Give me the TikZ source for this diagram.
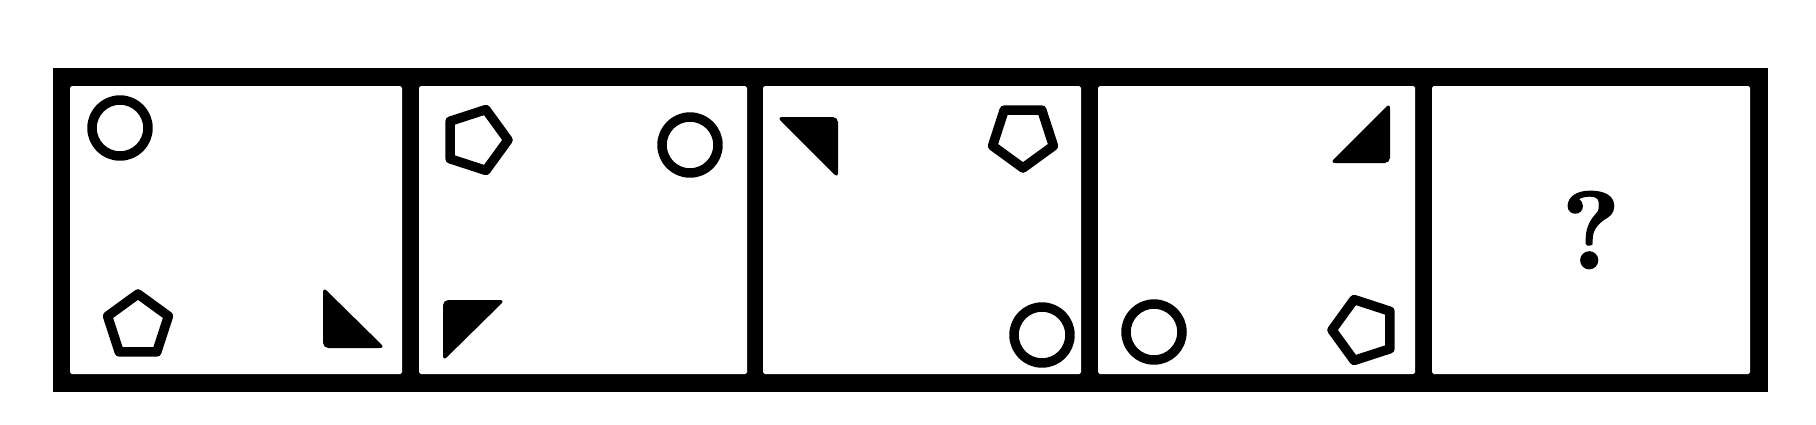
\documentclass[tikz,border=0pt]{standalone}
\usepackage{fontspec}
\usetikzlibrary{positioning}

\tikzset{
  ring/.style={draw=black,line width=0.19cm,line join=round},
  wedge/.style={fill=black,rounded corners=3pt},
  panel/.style={fill=white,rounded corners=1pt}
}
% pentagon outline: centre x, centre y, angle of first corner
\newcommand{\pentring}[3]{%
  \draw[ring] (#1,#2) +(#3:32) -- +(#3+72:32) -- +(#3+144:32)
    -- +(#3+216:32) -- +(#3+288:32) -- cycle;}
% heavier glyph: fill and stroke the outline
\newcommand{\heavytext}[1]{\special{pdf:literal direct 2 Tr 1.4 w}#1\special{pdf:literal direct 0 Tr}}

\begin{document}
\begin{tikzpicture}[x=0.02cm,y=-0.02cm]
% one unit = one pixel of the 1816 x 424 sheet, y runs downwards
\useasboundingbox (0,0) rectangle (1816,424);

% black frame with five white panels
\fill (53,68) rectangle (1768,392);
\foreach \l/\r in {70/402,419/747,763/1081,1098/1415,1432/1750}{
  \fill[panel] (\l,86) rectangle (\r,374);
}

% panel 1
\draw[ring] (120,128) circle (0.56cm);
\pentring{138}{326}{-90}
\fill[wedge] (323,348) -- (385,348) -- (323,287) -- cycle;

% panel 2
\pentring{476}{140}{0}
\draw[ring] (690,145) circle (0.56cm);
\fill[wedge] (443,300) -- (505,300) -- (443,361) -- cycle;

% panel 3
\fill[wedge] (838,117) -- (838,178) -- (777,117) -- cycle;
\pentring{1023}{136}{90}
\draw[ring] (1042,335) circle (0.56cm);

% panel 4
\fill[wedge] (1390,163) -- (1330,163) -- (1390,103) -- cycle;
\draw[ring] (1154,332) circle (0.56cm);
\pentring{1364}{330}{180}

% panel 5
\node[font=\bfseries\fontsize{62}{64}\selectfont] (query) at (1591,230) {\heavytext{?}};
\end{tikzpicture}
\end{document}
